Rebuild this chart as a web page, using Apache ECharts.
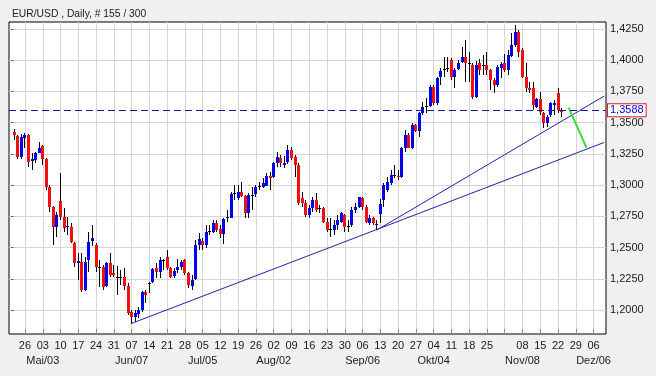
<!DOCTYPE html>
<html>
<head>
<meta charset="utf-8">
<script src="https://cdn.jsdelivr.net/npm/echarts@6/dist/echarts.min.js"></script>
<style>
html, body { margin: 0; padding: 0; background: #f0f0f0; }
#chart { width: 656px; height: 376px; }
</style>
</head>
<body>
<div id="chart"></div>
<script>
// trading days on the axis (weekdays, Apr 20 .. Dec 9 2010)
const firstDay = '2010-04-20';
const lastDay = '2010-12-09';
const firstBar = '2010-04-21';

const categories = [];
(function () {
  let d = new Date(firstDay + 'T00:00:00Z');
  const end = new Date(lastDay + 'T00:00:00Z');
  while (d <= end) {
    const wd = d.getUTCDay();
    if (wd !== 0 && wd !== 6) categories.push(d.toISOString().slice(0, 10));
    d = new Date(d.getTime() + 86400000);
  }
})();

// daily OHLC, Apr 21 .. Nov 23
const opens = [
  1.3423, 1.3393, 1.3227, 1.3374, 1.3401, 1.3190, 1.3201, 1.3259, 1.3313, 1.3206,
  1.2987, 1.2822, 1.2666, 1.2875, 1.2742, 1.2666, 1.2662, 1.2538, 1.2373, 1.2386,
  1.2159, 1.2400, 1.2554, 1.2520, 1.2346, 1.2346, 1.2189, 1.2378, 1.2298, 1.2266,
  1.2261, 1.2266, 1.2191, 1.1986, 1.1943, 1.1968, 1.2000, 1.2146, 1.2205, 1.2223,
  1.2333, 1.2306, 1.2400, 1.2426, 1.2333, 1.2272, 1.2320, 1.2346, 1.2400, 1.2298,
  1.2191, 1.2245, 1.2520, 1.2552, 1.2520, 1.2630, 1.2626, 1.2694, 1.2648, 1.2608,
  1.2734, 1.2738, 1.2934, 1.2899, 1.2942, 1.2915, 1.2774, 1.2920, 1.2926, 1.2995,
  1.2987, 1.2995, 1.3075, 1.3067, 1.3174, 1.3219, 1.3158, 1.3187, 1.3281, 1.3222,
  1.3161, 1.2900, 1.2854, 1.2760, 1.2814, 1.2880, 1.2814, 1.2814, 1.2706, 1.2646,
  1.2640, 1.2680, 1.2706, 1.2760, 1.2670, 1.2680, 1.2800, 1.2827, 1.2894, 1.2827,
  1.2698, 1.2734, 1.2680, 1.2765, 1.2880, 1.2960, 1.3014, 1.3080, 1.3075, 1.3067,
  1.3294, 1.3401, 1.3300, 1.3481, 1.3436, 1.3580, 1.3633, 1.3633, 1.3783, 1.3655,
  1.3863, 1.3927, 1.3935, 1.4002, 1.3868, 1.3927, 1.3988, 1.4023, 1.3980, 1.3962,
  1.3708, 1.3980, 1.3962, 1.3962, 1.3922, 1.3841, 1.3801, 1.3935, 1.3975, 1.3922,
  1.4036, 1.4122, 1.4228, 1.4082, 1.3868, 1.3775, 1.3775, 1.3628, 1.3687, 1.3575,
  1.3495, 1.3561, 1.3641, 1.3740, 1.3601
];
const closes = [
  1.3398, 1.3227, 1.3387, 1.3403, 1.3187, 1.3206, 1.3259, 1.3294, 1.3206, 1.2987,
  1.2827, 1.2666, 1.2760, 1.2747, 1.2654, 1.2675, 1.2546, 1.2373, 1.2392, 1.2159,
  1.2386, 1.2546, 1.2573, 1.2346, 1.2346, 1.2186, 1.2373, 1.2280, 1.2280, 1.2266,
  1.2261, 1.2191, 1.1973, 1.1946, 1.1973, 1.2000, 1.2146, 1.2120, 1.2218, 1.2325,
  1.2306, 1.2400, 1.2400, 1.2333, 1.2266, 1.2312, 1.2346, 1.2386, 1.2298, 1.2200,
  1.2240, 1.2520, 1.2568, 1.2520, 1.2626, 1.2630, 1.2694, 1.2640, 1.2608, 1.2728,
  1.2744, 1.2926, 1.2934, 1.2942, 1.2915, 1.2774, 1.2920, 1.2920, 1.2987, 1.2995,
  1.3014, 1.3075, 1.3059, 1.3174, 1.3227, 1.3174, 1.3174, 1.3281, 1.3214, 1.3161,
  1.2854, 1.2860, 1.2760, 1.2814, 1.2880, 1.2800, 1.2814, 1.2706, 1.2640, 1.2646,
  1.2680, 1.2720, 1.2778, 1.2666, 1.2670, 1.2800, 1.2827, 1.2902, 1.2827, 1.2706,
  1.2734, 1.2698, 1.2690, 1.2850, 1.3000, 1.3027, 1.3081, 1.3085, 1.3062, 1.3294,
  1.3401, 1.3300, 1.3481, 1.3436, 1.3575, 1.3628, 1.3633, 1.3788, 1.3655, 1.3855,
  1.3916, 1.3927, 1.3935, 1.3868, 1.3922, 1.3980, 1.4023, 1.3980, 1.3980, 1.3703,
  1.3960, 1.3922, 1.3962, 1.3922, 1.3841, 1.3801, 1.3948, 1.3967, 1.3922, 1.4042,
  1.4125, 1.4228, 1.4068, 1.3868, 1.3775, 1.3761, 1.3641, 1.3687, 1.3588, 1.3495,
  1.3548, 1.3655, 1.3655, 1.3601, 1.3588
];
const lows = [
  1.3361, 1.3206, 1.3206, 1.3294, 1.3147, 1.3121, 1.3179, 1.3254, 1.3161, 1.2960,
  1.2787, 1.2520, 1.2586, 1.2720, 1.2626, 1.2600, 1.2533, 1.2346, 1.2240, 1.2146,
  1.2151, 1.2306, 1.2512, 1.2306, 1.2186, 1.2159, 1.2186, 1.2264, 1.2266, 1.2120,
  1.2200, 1.2159, 1.1959, 1.1887, 1.1906, 1.1933, 1.1986, 1.2053, 1.2140, 1.2215,
  1.2253, 1.2253, 1.2320, 1.2320, 1.2253, 1.2253, 1.2293, 1.2320, 1.2280, 1.2173,
  1.2159, 1.2240, 1.2480, 1.2480, 1.2493, 1.2600, 1.2614, 1.2626, 1.2573, 1.2525,
  1.2706, 1.2734, 1.2880, 1.2880, 1.2905, 1.2734, 1.2736, 1.2800, 1.2907, 1.2960,
  1.2974, 1.2990, 1.2960, 1.3059, 1.3147, 1.3147, 1.3134, 1.3170, 1.3201, 1.3067,
  1.2840, 1.2827, 1.2747, 1.2734, 1.2787, 1.2787, 1.2774, 1.2694, 1.2626, 1.2586,
  1.2600, 1.2640, 1.2694, 1.2626, 1.2626, 1.2666, 1.2774, 1.2814, 1.2800, 1.2694,
  1.2680, 1.2680, 1.2640, 1.2694, 1.2827, 1.2947, 1.3000, 1.3054, 1.3040, 1.3054,
  1.3267, 1.3294, 1.3290, 1.3427, 1.3387, 1.3561, 1.3575, 1.3628, 1.3641, 1.3641,
  1.3801, 1.3868, 1.3906, 1.3841, 1.3775, 1.3922, 1.3975, 1.3828, 1.3828, 1.3689,
  1.3695, 1.3880, 1.3882, 1.3882, 1.3761, 1.3735, 1.3788, 1.3855, 1.3906, 1.3882,
  1.4026, 1.4108, 1.4028, 1.3855, 1.3748, 1.3737, 1.3601, 1.3615, 1.3561, 1.3455,
  1.3468, 1.3548, 1.3561, 1.3575, 1.3548
];
const highs = [
  1.3447, 1.3401, 1.3409, 1.3415, 1.3409, 1.3254, 1.3267, 1.3342, 1.3321, 1.3214,
  1.3000, 1.2832, 1.2787, 1.3094, 1.2814, 1.2744, 1.2694, 1.2546, 1.2453, 1.2453,
  1.2426, 1.2626, 1.2680, 1.2533, 1.2400, 1.2360, 1.2386, 1.2453, 1.2360, 1.2352,
  1.2320, 1.2333, 1.2213, 1.2000, 1.2000, 1.2026, 1.2154, 1.2157, 1.2226, 1.2333,
  1.2373, 1.2421, 1.2410, 1.2480, 1.2346, 1.2333, 1.2405, 1.2400, 1.2410, 1.2306,
  1.2280, 1.2560, 1.2614, 1.2573, 1.2680, 1.2680, 1.2720, 1.2720, 1.2680, 1.2734,
  1.2800, 1.2942, 1.3000, 1.3000, 1.3027, 1.2920, 1.2935, 1.2987, 1.3000, 1.3027,
  1.3054, 1.3094, 1.3107, 1.3187, 1.3262, 1.3241, 1.3235, 1.3321, 1.3307, 1.3241,
  1.3174, 1.2947, 1.2880, 1.2840, 1.2907, 1.2934, 1.2840, 1.2827, 1.2734, 1.2734,
  1.2720, 1.2760, 1.2787, 1.2768, 1.2720, 1.2827, 1.2854, 1.2907, 1.2907, 1.2840,
  1.2760, 1.2747, 1.2720, 1.2890, 1.3014, 1.3067, 1.3121, 1.3161, 1.3121, 1.3307,
  1.3441, 1.3415, 1.3495, 1.3489, 1.3588, 1.3668, 1.3695, 1.3801, 1.3801, 1.3868,
  1.3935, 1.4028, 1.4028, 1.4015, 1.3935, 1.4002, 1.4108, 1.4162, 1.4068, 1.3975,
  1.3996, 1.4010, 1.4042, 1.4068, 1.3930, 1.3855, 1.3962, 1.3988, 1.4047, 1.4082,
  1.4216, 1.4282, 1.4242, 1.4095, 1.3975, 1.3828, 1.3828, 1.3695, 1.3748, 1.3588,
  1.3561, 1.3668, 1.3681, 1.3775, 1.3615
];

// drawn lines: [date, price]
const supportLow = [['2010-06-07', 1.1893], ['2010-12-09', 1.3342]];
const supportHigh = [['2010-09-10', 1.2640], ['2010-12-09', 1.3713]];
const projection = [['2010-11-25', 1.3620], ['2010-12-02', 1.3300]];
const lastPrice = 1.3588;

// axis ticks
const weekTicks = [
  '2010-04-26', '2010-05-03', '2010-05-10', '2010-05-17', '2010-05-24', '2010-05-31',
  '2010-06-07', '2010-06-14', '2010-06-21', '2010-06-28', '2010-07-05', '2010-07-12',
  '2010-07-19', '2010-07-26', '2010-08-02', '2010-08-09', '2010-08-16', '2010-08-23',
  '2010-08-30', '2010-09-06', '2010-09-13', '2010-09-20', '2010-09-27', '2010-10-04',
  '2010-10-11', '2010-10-18', '2010-10-25', '2010-11-01', '2010-11-08', '2010-11-15',
  '2010-11-22', '2010-11-29', '2010-12-06'
];
const unlabeledTicks = ['2010-11-01'];
const monthTicks = ['2010-05-03', '2010-06-07', '2010-07-05', '2010-08-02',
  '2010-09-06', '2010-10-04', '2010-11-08', '2010-12-06'];
const monthNames = ['Jan', 'Feb', 'Mrz', 'Apr', 'Mai', 'Jun', 'Jul', 'Aug', 'Sep', 'Okt', 'Nov', 'Dez'];
const priceTicks = [1.2000, 1.2250, 1.2500, 1.2750, 1.3000, 1.3250, 1.3500, 1.3750, 1.4000, 1.4250];
const priceMin = 1.1808;
const priceMax = 1.4306;

const UP = '#0000f0';
const DOWN = '#f01010';

const idx = d => categories.indexOf(d);
const start = idx(firstBar);
const candles = opens.map((o, k) => [start + k, o, closes[k], lows[k], highs[k]]);
const toPts = arr => arr.map(p => [idx(p[0]), p[1]]);
const tickIdx = weekTicks.map(idx);
const labelIdx = weekTicks.filter(d => unlabeledTicks.indexOf(d) < 0).map(idx);
const monthIdx = monthTicks.map(idx);
const fmtPrice = v => v.toFixed(4).replace('.', ',');

function renderCandle(params, api) {
  const i = api.value(0);
  const o = api.value(1), c = api.value(2), l = api.value(3), h = api.value(4);
  const x = Math.floor(api.coord([i, o])[0]);
  const yo = api.coord([i, o])[1];
  const yc = api.coord([i, c])[1];
  const yl = api.coord([i, l])[1];
  const yh = api.coord([i, h])[1];
  let top = Math.round(Math.min(yo, yc));
  let bot = Math.round(Math.max(yo, yc));
  if (bot - top < 1) bot = top + 1;
  const fill = c > o ? UP : (c < o ? DOWN : '#000');
  return {
    type: 'group',
    children: [
      { type: 'line', shape: { x1: x + 0.5, y1: Math.round(yh), x2: x + 0.5, y2: Math.round(yl) },
        style: { stroke: '#000', lineWidth: 1 } },
      { type: 'rect', shape: { x: x - 1, y: top, width: 3, height: bot - top },
        style: { fill: fill } }
    ]
  };
}

const chart = echarts.init(document.getElementById('chart'));
const font = 'Liberation Sans, Arial, sans-serif';

chart.setOption({
  backgroundColor: '#f0f0f0',
  animation: false,
  textStyle: { fontFamily: font },
  title: {
    text: 'EUR/USD , Daily, # 155 / 300',
    left: 7, top: 4,
    textStyle: { fontSize: 10.3, fontWeight: 'normal', color: '#1a1a1a', fontFamily: font }
  },
  grid: {
    left: 9, right: 50, top: 22, bottom: 42,
    show: true, backgroundColor: '#ffffff', borderColor: '#000', borderWidth: 1
  },
  xAxis: [
    {
      type: 'value',
      min: -0.5,
      max: categories.length - 0.5,
      axisLine: { show: false },
      axisTick: { show: true, inside: true, length: 5, customValues: tickIdx,
        lineStyle: { color: '#d07070' } },
      splitLine: { show: true, lineStyle: { color: '#d6d6d6' } },
      axisLabel: {
        customValues: labelIdx,
        showMinLabel: true, showMaxLabel: true, hideOverlap: false,
        fontSize: 11, color: '#1a1a1a', margin: 6,
        formatter: v => categories[Math.round(v)].slice(8, 10)
      }
    },
    {
      // second row: month / first labelled day
      type: 'value',
      position: 'bottom',
      offset: 15,
      min: -0.5,
      max: categories.length - 0.5,
      axisLine: { show: false },
      axisTick: { show: false },
      splitLine: { show: false },
      axisLabel: {
        customValues: monthIdx,
        showMinLabel: true, showMaxLabel: true, hideOverlap: false,
        fontSize: 11, color: '#1a1a1a', margin: 6,
        formatter: function (v) {
          const d = categories[Math.round(v)];
          return monthNames[+d.slice(5, 7) - 1] + '/' + d.slice(8, 10);
        }
      }
    }
  ],
  yAxis: {
    type: 'value',
    position: 'right',
    min: priceMin,
    max: priceMax,
    axisLine: { show: false },
    axisTick: { show: true, length: 3, customValues: priceTicks, lineStyle: { color: '#e03030' } },
    splitLine: { show: true, lineStyle: { color: '#d6d6d6' } },
    axisLabel: {
      customValues: priceTicks,
      showMinLabel: true, showMaxLabel: true,
      fontSize: 11, color: '#1a1a1a', margin: 4,
      formatter: fmtPrice
    }
  },
  series: [
    {
      type: 'custom',
      name: 'EUR/USD',
      renderItem: renderCandle,
      encode: { x: 0, y: [1, 2, 3, 4] },
      data: candles,
      clip: true,
      z: 2
    },
    {
      type: 'line',
      data: toPts(supportLow),
      symbol: 'none',
      lineStyle: { color: '#2222aa', width: 1 },
      z: 3,
      silent: true,
      markLine: {
        silent: true,
        symbol: 'none',
        lineStyle: { color: '#1a1a90', type: [7, 4], width: 1 },
        label: {
          show: true, position: 'end', distance: 2,
          formatter: () => fmtPrice(lastPrice),
          color: '#0000ee', fontSize: 11, fontFamily: font,
          backgroundColor: '#ffffff', borderColor: '#e02020', borderWidth: 1,
          padding: [1, 2, 0, 2]
        },
        data: [{ yAxis: lastPrice }]
      }
    },
    {
      type: 'line',
      data: toPts(supportHigh),
      symbol: 'none',
      lineStyle: { color: '#2222aa', width: 1 },
      z: 3,
      silent: true
    },
    {
      type: 'line',
      data: toPts(projection),
      symbol: 'none',
      lineStyle: { color: '#33e033', width: 2 },
      z: 4,
      silent: true
    }
  ]
});
</script>
</body>
</html>
